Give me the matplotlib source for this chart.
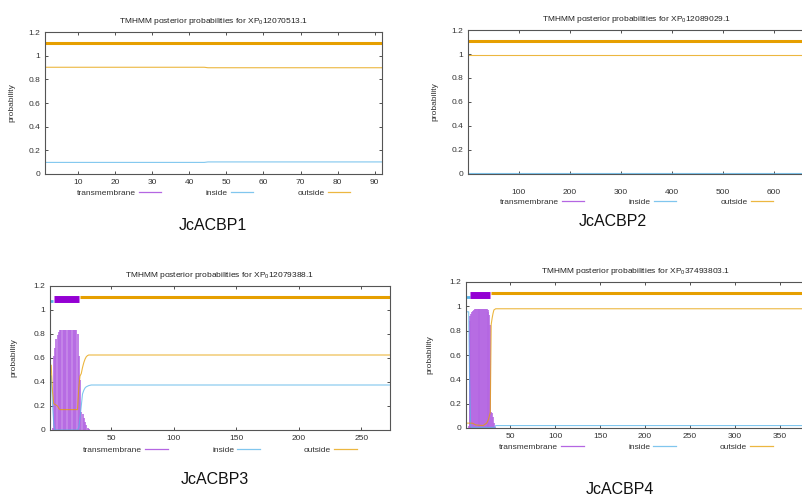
import matplotlib
matplotlib.use('Agg')
import matplotlib.pyplot as plt
from matplotlib.lines import Line2D

plt.rcParams['font.family'] = ['Liberation Sans', 'DejaVu Sans']
plt.rcParams['mathtext.fontset'] = 'custom'
plt.rcParams['mathtext.rm'] = 'Liberation Sans'
plt.rcParams['mathtext.default'] = 'regular'

TM_C = '#9400D3'
IN_C = '#56B4E9'
OUT_C = '#E69F00'

# ---- JcACBP1 ----
p1_title = 'TMHMM posterior probabilities for XP$_0$12070513.1'
p1_xmax = 92
p1_xticks = [10, 20, 30, 40, 50, 60, 70, 80, 90]
p1_in_x = [1, 44, 45, 92]
p1_in_y = [0.098, 0.098, 0.102, 0.102]
p1_out_x = [1, 44, 45, 92]
p1_out_y = [0.902, 0.902, 0.898, 0.898]
p1_tm_pos = list(range(27, 51))
p1_tm_val = [0.003] * 24
p1_bar_in = None
p1_bar_tm = None
p1_bar_out = [1, 92]

# ---- JcACBP2 ----
p2_title = 'TMHMM posterior probabilities for XP$_0$12089029.1'
p2_xmax = 661
p2_xticks = [100, 200, 300, 400, 500, 600]
p2_in_x = [1, 655]
p2_in_y = [0.005, 0.005]
p2_out_x = [1, 655]
p2_out_y = [0.995, 0.995]
p2_tm_pos = []
p2_tm_val = []
p2_bar_in = None
p2_bar_tm = None
p2_bar_out = [1, 655]

# ---- JcACBP3 ----
p3_title = 'TMHMM posterior probabilities for XP$_0$12079388.1'
p3_xmax = 273
p3_xticks = [50, 100, 150, 200, 250]
p3_in_x = [1, 2, 3, 4, 5, 23, 24, 25, 26, 27, 28, 29, 30, 32, 34, 273]
p3_in_y = [0.46, 0.45, 0.22, 0.05, 0.0, 0.0, 0.02, 0.1, 0.2, 0.3, 0.33, 0.35, 0.36, 0.37, 0.375, 0.375]
p3_out_x = [1, 2, 3, 4, 7, 8, 9, 23, 24, 25, 26, 27, 28, 29, 30, 31, 32, 273]
p3_out_y = [0.54, 0.54, 0.32, 0.22, 0.2, 0.18, 0.17, 0.17, 0.35, 0.45, 0.47, 0.52, 0.56, 0.59, 0.61, 0.62, 0.625, 0.625]
p3_tm_pos = [3, 4, 5, 6, 7, 8, 9, 10, 11, 12, 13, 14, 15, 16, 17, 18, 19, 20, 21, 22,
             23, 24, 25, 26, 27, 28, 29, 30, 31, 32]
p3_tm_val = [0.02, 0.62, 0.68, 0.76, 0.79, 0.82, 0.83, 0.835, 0.835, 0.835, 0.835, 0.835,
             0.835, 0.835, 0.835, 0.835, 0.835, 0.835, 0.835, 0.835,
             0.80, 0.62, 0.42, 0.15, 0.13, 0.10, 0.07, 0.04, 0.02, 0.005]
p3_bar_in = [1, 3]
p3_bar_tm = [4, 24]
p3_bar_out = [25, 273]

# ---- JcACBP4 ----
p4_title = 'TMHMM posterior probabilities for XP$_0$37493803.1'
p4_xmax = 379
p4_xticks = [50, 100, 150, 200, 250, 300, 350]
p4_in_x = [1, 4, 5, 6, 7, 33, 34, 379]
p4_in_y = [0.955, 0.955, 0.4, 0.03, 0.005, 0.005, 0.02, 0.02]
p4_out_x = [1, 8, 12, 20, 24, 26, 27, 28, 29, 30, 31, 32, 34, 379]
p4_out_y = [0.04, 0.04, 0.025, 0.02, 0.04, 0.07, 0.1, 0.13, 0.85, 0.9, 0.94, 0.97, 0.98, 0.98]
p4_tm_pos = [4, 5, 6, 7, 8, 9, 10, 11, 12, 13, 14, 15, 16, 17, 18, 19, 20, 21, 22, 23,
             24, 25, 26, 27, 28, 29, 30, 31, 32, 33]
p4_tm_val = [0.02, 0.88, 0.92, 0.94, 0.95, 0.96, 0.97, 0.975, 0.975, 0.975, 0.975, 0.975,
             0.975, 0.975, 0.975, 0.975, 0.975, 0.975, 0.975, 0.975,
             0.975, 0.97, 0.955, 0.93, 0.85, 0.13, 0.12, 0.09, 0.04, 0.01]
p4_bar_in = [1, 5]
p4_bar_tm = [6, 28]
p4_bar_out = [29, 379]

W, H = 802, 499
fig = plt.figure(figsize=(W / 100, H / 100), dpi=100)


def panel(px_rect, title, xmax, xticks, in_x, in_y, out_x, out_y, tm_pos, tm_val,
          bar_in, bar_tm, bar_out, xpad, leg_dy, ylab_dx):
    l, t, r, b = px_rect
    ax = fig.add_axes([l / W, 1 - b / H, (r - l) / W, (b - t) / H])
    ax.set_xlim(1, xmax)
    ax.set_ylim(0, 1.2)

    # transmembrane drawn as impulses, like gnuplot
    ax.vlines(tm_pos, 0, tm_val, color='#b466e2', lw=1.15)
    ax.plot(in_x, in_y, color=IN_C, lw=0.8, alpha=0.75)
    ax.plot(out_x, out_y, color=OUT_C, lw=0.8, alpha=0.75)

    if bar_in:
        ax.plot(bar_in, [1.075, 1.075], color=IN_C, lw=2.0, solid_capstyle='butt')
    if bar_tm:
        ax.plot(bar_tm, [1.09, 1.09], color=TM_C, lw=5.0, solid_capstyle='butt')
    if bar_out:
        ax.plot(bar_out, [1.11, 1.11], color=OUT_C, lw=2.2, solid_capstyle='butt')

    ax.set_xticks(xticks)
    ax.set_yticks([0, 0.2, 0.4, 0.6, 0.8, 1, 1.2])
    ax.set_yticklabels(['0', '0.2', '0.4', '0.6', '0.8', '1', '1.2'])
    ax.tick_params(direction='in', length=2.5, width=0.6, labelsize=6,
                   colors='#333333', top=True, right=True)
    ax.tick_params(axis='x', pad=xpad)
    ax.tick_params(axis='y', pad=3.5)
    for s in ax.spines.values():
        s.set_color('#555555')
        s.set_linewidth(0.8)

    ax.set_title(title, fontsize=6, pad=6.5, color='#222222')
    ax.set_ylabel('probability', fontsize=6, color='#333333')
    ax.yaxis.set_label_coords(ylab_dx / (r - l), 0.5)

    handles = [Line2D([], [], color='#b466e2', lw=0.9),
               Line2D([], [], color=IN_C, lw=0.9, alpha=0.75),
               Line2D([], [], color=OUT_C, lw=0.9, alpha=0.75)]
    ax.legend(handles, ['transmembrane', 'inside', 'outside'], ncol=3, loc='center',
              bbox_to_anchor=(0.5, -leg_dy / (b - t)), frameon=False, markerfirst=False,
              handlelength=2.7, columnspacing=5.3, handletextpad=0.4, fontsize=6,
              borderaxespad=0, borderpad=0, labelcolor='#333333')
    return ax


panel((45, 32, 382, 174), p1_title, p1_xmax, p1_xticks, p1_in_x, p1_in_y, p1_out_x, p1_out_y,
      p1_tm_pos, p1_tm_val, p1_bar_in, p1_bar_tm, p1_bar_out, 3.5, 19, -30)
panel((468, 30, 805, 174), p2_title, p2_xmax, p2_xticks, p2_in_x, p2_in_y, p2_out_x, p2_out_y,
      p2_tm_pos, p2_tm_val, p2_bar_in, p2_bar_tm, p2_bar_out, 10.5, 28, -30)
panel((50, 286, 390, 430), p3_title, p3_xmax, p3_xticks, p3_in_x, p3_in_y, p3_out_x, p3_out_y,
      p3_tm_pos, p3_tm_val, p3_bar_in, p3_bar_tm, p3_bar_out, 3.5, 20, -33)
panel((466, 282, 806, 428), p4_title, p4_xmax, p4_xticks, p4_in_x, p4_in_y, p4_out_x, p4_out_y,
      p4_tm_pos, p4_tm_val, p4_bar_in, p4_bar_tm, p4_bar_out, 3.5, 19, -33)

labels = ['JcACBP1', 'JcACBP2', 'JcACBP3', 'JcACBP4']
label_px = [(213, 226), (613, 222), (215, 480), (620, 490)]
for name, (lx, ly) in zip(labels, label_px):
    fig.text(lx / W, 1 - ly / H, name, fontsize=11.5, ha='center', va='center', color='#111111')

fig.savefig('out.png', dpi=100)
